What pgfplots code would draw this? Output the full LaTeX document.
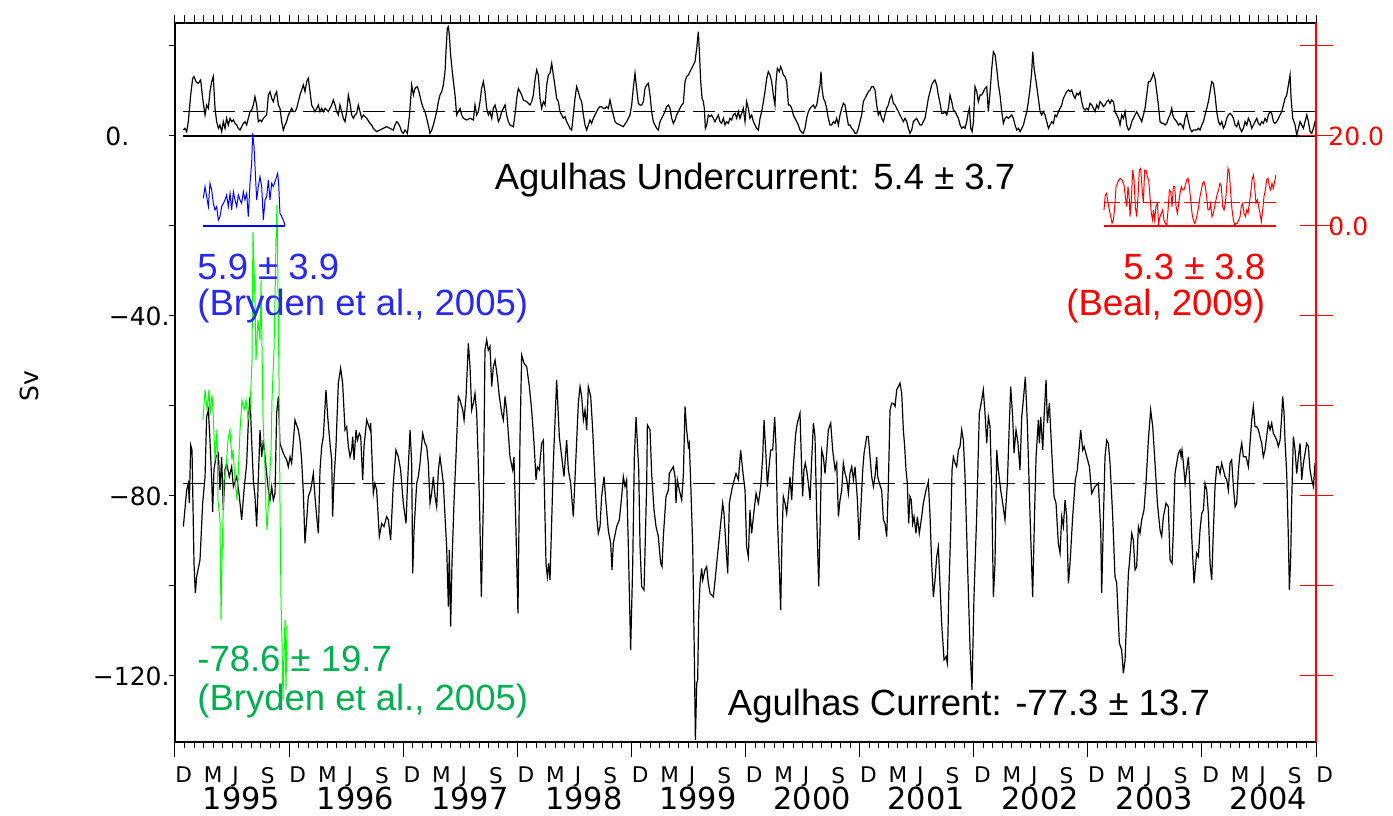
\documentclass[border=0pt]{standalone}
\usepackage{fontspec}
\setmainfont{Liberation Sans}
\newfontfamily\axisfont{DejaVu Sans}
\usepackage{pgfplots}
\pgfplotsset{compat=1.18}

\definecolor{linegreen}{RGB}{0,255,0}
\definecolor{textgreen}{RGB}{0,176,80}
\definecolor{lineblue}{RGB}{0,0,255}
\definecolor{textblue}{RGB}{40,40,240}
\definecolor{linered}{RGB}{255,0,0}

\newcommand{\annfont}{\fontsize{18.25}{22}\selectfont}
\newcommand{\tickfont}{\axisfont\fontsize{12.5}{14}\selectfont}
\newcommand{\monthfont}{\axisfont\fontsize{10.8}{12}\selectfont}
\newcommand{\yearfont}{\axisfont\fontsize{15.2}{17}\selectfont}

\begin{document}
\begin{tikzpicture}
\pgfplotsset{
  common/.style={scale only axis, width=570.5pt, height=359.5pt, xmin=0, xmax=120},
}
% monthly ticks along the top edge
\begin{axis}[common, ymin=-134.67, ymax=25.11,
  axis x line*=top, axis y line=none,
  xtick={0,...,120}, xticklabels={},
  tick align=outside, major tick length=4pt,
  tick style={black, line width=0.5pt},
  axis line style={black, line width=0.6pt}]
\end{axis}

\begin{axis}[common, name=main, ymin=-134.67, ymax=25.11, clip=false,
  axis line style={black, line width=0.6pt},
  xtick={0,3,...,120}, minor xtick={0,...,120}, xtick pos=bottom,
  xticklabels={D,M,J,S,D,M,J,S,D,M,J,S,D,M,J,S,D,M,J,S,D,M,J,S,D,M,J,S,D,M,J,S,D,M,J,S,D,M,J,S,D},
  xticklabel style={anchor=north west, inner sep=0pt, font=\monthfont},
  xticklabel shift=9.3pt,
  extra x ticks={0,12,...,120}, extra x tick labels={},
  extra x tick style={major tick length=7.5pt},
  ytick={-120,-100,...,20}, yticklabels={}, ytick pos=left,
  tick align=outside, major tick length=3pt, minor tick length=3pt,
  tick style={black, line width=0.5pt},
]

% reference lines: zero and mean of the undercurrent, mean of the current
\addplot[black, line width=0.6pt] coordinates {(0.84,0) (120,0)};
\addplot[black, line width=0.6pt, dash pattern=on 11pt off 4pt] coordinates {(0.84,5.4) (120,5.4)};
\addplot[black, line width=0.6pt, dash pattern=on 11pt off 4pt] coordinates {(0.84,-77.3) (120,-77.3)};

% Agulhas Undercurrent transport (Sv)
\addplot[black, line width=0.6pt] coordinates {
(0.88,1.33)(1.05,1.70)(1.23,0.96)(1.40,3.19)(1.65,9.11)(1.86,12.81)(2.00,13.19)(2.21,12.07)(2.45,11.70)(2.70,12.45)
(2.91,8.37)(3.16,4.67)(3.33,6.89)(3.51,6.15)(3.68,9.85)(3.86,12.07)(4.03,13.19)(4.21,6.15)(4.38,3.19)(4.56,1.70)
(4.73,2.44)(4.91,0.96)(5.08,3.19)(5.26,1.70)(5.43,3.93)(5.61,2.44)(5.79,3.93)(5.96,3.19)(6.14,3.56)(6.31,2.81)
(6.49,2.44)(6.66,1.70)(6.84,1.33)(7.01,2.07)(7.19,2.81)(7.36,3.19)(7.54,2.44)(7.71,3.93)(7.89,5.41)(8.06,5.78)
(8.24,6.89)(8.41,8.74)(8.59,6.89)(8.76,3.19)(8.94,3.56)(9.12,3.19)(9.29,3.93)(9.64,4.67)(9.82,9.11)(9.99,9.85)
(10.17,8.37)(10.34,7.63)(10.52,9.11)(10.69,9.85)(10.87,6.89)(11.04,6.15)(11.22,3.19)(11.39,1.33)(11.57,2.44)(11.74,3.19)
(11.92,4.67)(12.10,5.41)(12.27,6.15)(12.45,5.41)(12.62,5.41)(12.80,6.15)(12.97,7.63)(13.15,9.11)(13.32,10.22)(13.50,11.33)
(13.67,9.85)(13.85,12.07)(14.02,12.81)(14.20,9.85)(14.37,6.89)(14.55,6.15)(14.72,5.41)(14.90,6.15)(15.08,6.89)(15.25,5.41)
(15.43,6.15)(15.60,5.41)(15.78,6.15)(15.95,5.78)(16.13,5.41)(16.30,6.15)(16.48,6.89)(16.65,8.00)(16.83,6.89)(17.00,5.41)
(17.18,4.67)(17.35,6.89)(17.53,5.41)(17.70,3.93)(17.88,3.19)(18.06,5.41)(18.23,9.11)(18.41,7.26)(18.58,4.67)(18.76,3.93)
(18.93,4.67)(19.11,5.04)(19.28,6.89)(19.46,5.41)(19.63,3.93)(19.81,4.67)(20.16,3.93)(20.51,2.81)(20.68,2.44)(20.86,1.70)
(21.04,1.33)(21.21,0.96)(21.56,1.33)(21.91,1.70)(22.26,2.07)(22.61,1.70)(22.96,1.33)(23.14,2.44)(23.31,3.19)(23.49,2.81)
(23.66,2.07)(23.84,0.96)(24.02,0.59)(24.19,1.33)(24.44,0.59)(24.65,4.30)(24.79,8.37)(24.89,11.33)(25.07,9.11)(25.24,10.59)
(25.49,10.96)(25.70,9.48)(25.94,7.26)(26.12,6.15)(26.29,5.41)(26.47,3.93)(26.64,2.44)(26.82,0.59)(27.00,1.33)(27.17,2.44)
(27.35,3.93)(27.52,5.41)(27.70,7.63)(27.87,9.11)(28.05,9.85)(28.22,11.33)(28.40,14.30)(28.50,18.74)(28.64,23.93)(28.75,24.30)
(28.85,22.45)(28.99,18.00)(29.20,13.56)(29.45,9.11)(29.62,4.67)(29.80,5.41)(29.98,6.15)(30.15,4.67)(30.33,3.93)(30.68,3.56)
(31.03,3.93)(31.38,3.56)(31.55,6.89)(31.73,4.67)(31.90,5.41)(32.08,7.63)(32.25,10.59)(32.43,12.07)(32.60,9.85)(32.78,6.15)
(32.96,4.67)(33.13,5.41)(33.31,3.93)(33.48,6.15)(33.66,6.89)(33.83,5.41)(34.01,3.19)(34.18,3.93)(34.36,5.41)(34.53,6.15)
(34.71,6.89)(34.88,4.67)(35.06,3.19)(35.23,2.44)(35.58,2.07)(35.76,4.67)(35.94,8.37)(36.11,10.59)(36.29,9.85)(36.46,9.11)
(36.64,8.00)(36.99,7.63)(37.34,6.89)(37.51,7.63)(37.69,9.11)(37.86,12.45)(38.04,14.67)(38.21,13.56)(38.39,8.37)(38.56,6.15)
(38.74,7.63)(38.92,6.89)(39.09,11.33)(39.27,13.56)(39.44,13.93)(39.62,16.15)(39.79,13.56)(39.97,10.96)(40.14,8.37)(40.32,7.63)
(40.49,5.41)(40.67,4.67)(40.84,3.93)(41.02,4.30)(41.19,3.19)(41.37,2.44)(41.54,1.70)(41.72,1.33)(41.89,4.67)(42.07,8.37)
(42.24,10.96)(42.42,9.85)(42.60,8.37)(42.77,7.63)(42.95,4.67)(43.12,2.44)(43.30,1.33)(43.47,2.44)(43.65,3.56)(43.82,2.81)
(44.00,3.93)(44.17,4.67)(44.35,5.41)(44.52,6.15)(44.70,6.52)(44.87,6.52)(45.05,6.15)(45.22,6.15)(45.40,6.52)(45.58,6.15)
(45.75,8.00)(45.93,6.15)(46.10,4.67)(46.28,3.19)(46.45,2.81)(46.80,2.44)(47.15,2.07)(47.50,3.19)(47.85,4.67)(48.03,6.89)
(48.20,10.59)(48.38,13.93)(48.55,10.59)(48.73,7.26)(48.91,6.89)(49.08,6.89)(49.26,7.63)(49.43,10.59)(49.61,11.33)(49.78,11.70)
(49.96,9.11)(50.13,5.41)(50.31,3.19)(50.48,2.44)(50.66,1.70)(50.83,1.33)(51.01,3.19)(51.18,3.93)(51.36,4.67)(51.53,5.41)
(51.71,6.52)(51.89,6.89)(52.06,6.15)(52.24,3.93)(52.41,2.81)(52.59,3.56)(52.76,4.67)(52.94,5.41)(53.11,6.15)(53.29,6.89)
(53.46,7.26)(53.64,12.07)(53.81,13.19)(53.99,13.56)(54.16,14.30)(54.34,15.04)(54.51,15.78)(54.69,16.52)(54.87,19.48)(55.04,23.19)
(55.15,18.74)(55.29,12.07)(55.43,8.37)(55.57,7.63)(55.67,6.15)(55.78,1.70)(55.92,2.44)(56.09,4.67)(56.27,4.30)(56.44,4.67)
(56.62,3.93)(56.79,3.19)(56.97,3.93)(57.14,4.67)(57.32,3.19)(57.49,2.81)(57.67,3.93)(57.85,2.44)(58.02,3.19)(58.20,2.81)
(58.37,3.93)(58.55,3.56)(58.72,4.67)(58.90,5.04)(59.07,3.93)(59.25,5.41)(59.42,3.93)(59.60,5.04)(59.77,6.15)(59.95,3.19)
(60.12,7.63)(60.30,6.15)(60.47,3.93)(60.65,4.67)(60.83,3.19)(61.00,2.44)(61.18,1.70)(61.35,1.33)(61.53,3.93)(61.70,5.41)
(61.88,7.63)(62.05,9.85)(62.23,12.81)(62.40,14.30)(62.58,13.56)(62.75,12.07)(62.93,9.11)(63.10,6.89)(63.21,12.07)(63.35,15.04)
(63.56,14.30)(63.70,15.41)(63.84,14.67)(63.98,13.56)(64.16,13.19)(64.33,12.07)(64.51,6.89)(64.68,6.89)(64.86,6.15)(65.03,4.67)
(65.21,3.93)(65.38,3.19)(65.56,2.44)(65.73,1.33)(65.91,0.82)(66.08,0.59)(66.26,1.70)(66.43,3.93)(66.61,5.41)(66.79,6.15)
(66.96,6.52)(67.14,6.89)(67.31,6.15)(67.49,6.89)(67.66,9.11)(67.84,11.33)(67.94,14.30)(68.05,10.59)(68.19,8.37)(68.36,7.63)
(68.54,6.15)(68.71,3.93)(68.89,2.44)(69.06,2.44)(69.24,3.19)(69.42,2.81)(69.59,3.93)(69.77,2.44)(69.94,4.67)(70.12,6.15)
(70.29,7.26)(70.47,6.89)(70.64,4.67)(70.82,2.44)(70.99,2.44)(71.17,1.70)(71.34,1.33)(71.52,0.59)(71.69,0.59)(71.87,1.70)
(72.04,3.19)(72.22,4.67)(72.39,7.63)(72.57,8.37)(72.75,9.11)(72.92,9.85)(73.10,10.22)(73.27,10.96)(73.45,10.96)(73.62,10.22)
(73.80,6.89)(73.97,4.67)(74.15,5.41)(74.32,3.93)(74.50,3.19)(74.67,4.67)(74.85,6.15)(75.02,6.89)(75.20,8.37)(75.37,9.11)
(75.55,7.26)(75.73,6.89)(75.90,6.15)(76.08,5.41)(76.25,4.67)(76.43,3.93)(76.60,3.19)(76.78,3.93)(76.95,3.19)(77.13,1.70)
(77.30,0.59)(77.48,1.33)(77.65,3.19)(77.83,3.56)(78.00,3.93)(78.18,3.19)(78.35,2.44)(78.53,2.44)(78.70,3.19)(78.88,3.93)
(79.06,6.15)(79.23,8.37)(79.41,9.85)(79.58,11.33)(79.76,12.07)(79.93,12.45)(80.11,11.33)(80.28,9.11)(80.46,7.26)(80.64,5.04)
(80.81,5.04)(80.99,5.41)(81.16,4.67)(81.34,6.15)(81.51,9.11)(81.69,7.63)(81.86,5.78)(82.04,5.41)(82.21,4.67)(82.39,3.93)
(82.57,2.44)(82.74,1.70)(82.92,2.07)(83.09,1.70)(83.27,3.19)(83.44,5.41)(83.55,6.15)(83.69,1.70)(83.83,0.96)(83.97,3.19)
(84.14,10.96)(84.32,9.85)(84.49,7.63)(84.67,9.11)(84.84,9.11)(85.02,9.85)(85.19,10.59)(85.37,10.96)(85.54,5.41)(85.72,9.85)
(85.90,15.04)(86.07,18.74)(86.25,18.00)(86.42,15.04)(86.60,11.33)(86.77,9.11)(86.95,5.41)(87.12,2.81)(87.30,3.93)(87.47,4.30)
(87.65,3.93)(87.82,4.30)(88.00,4.67)(88.17,3.93)(88.35,2.44)(88.53,1.33)(88.70,1.70)(88.88,0.96)(89.05,1.70)(89.23,2.44)
(89.40,3.93)(89.58,5.41)(89.75,7.63)(89.93,10.59)(90.10,14.30)(90.21,18.74)(90.35,15.04)(90.56,12.07)(90.80,8.37)(90.98,5.41)
(91.15,4.67)(91.33,5.41)(91.50,4.67)(91.68,3.19)(91.86,1.70)(92.03,2.44)(92.21,3.19)(92.38,2.81)(92.56,4.67)(92.73,4.30)
(92.91,5.41)(93.08,6.15)(93.26,6.89)(93.43,8.37)(93.61,9.11)(93.78,9.85)(93.96,10.22)(94.13,9.85)(94.31,10.22)(94.48,9.11)
(94.66,8.37)(94.84,9.48)(95.01,9.11)(95.19,9.85)(95.36,7.63)(95.54,6.15)(95.71,5.78)(95.89,6.15)(96.06,5.78)(96.24,7.26)
(96.41,6.89)(96.59,6.15)(96.76,5.41)(96.94,6.89)(97.11,6.15)(97.29,7.63)(97.46,7.26)(97.64,6.52)(97.82,6.89)(97.99,7.63)
(98.17,8.00)(98.34,7.26)(98.52,8.00)(98.69,7.63)(98.87,5.41)(99.04,4.67)(99.22,3.93)(99.39,2.44)(99.57,4.67)(99.74,3.93)
(99.92,5.41)(100.09,2.44)(100.27,1.33)(100.44,1.70)(100.62,3.19)(100.80,3.93)(100.97,4.67)(101.15,5.41)(101.32,4.67)(101.50,3.93)
(101.67,3.19)(101.85,4.67)(102.02,6.15)(102.20,9.11)(102.37,12.07)(102.55,12.07)(102.72,12.81)(102.90,13.93)(103.07,12.81)(103.25,9.85)
(103.42,6.89)(103.60,3.19)(103.78,2.81)(103.95,2.81)(104.13,2.44)(104.30,2.81)(104.48,3.93)(104.65,4.67)(104.83,6.15)(104.93,4.67)
(105.07,3.93)(105.35,3.19)(105.53,2.44)(105.70,2.81)(105.88,2.44)(106.05,1.70)(106.23,3.93)(106.40,5.04)(106.58,3.19)(106.76,1.70)
(106.93,0.96)(107.11,1.33)(107.46,1.33)(107.63,1.70)(107.81,1.33)(107.98,2.44)(108.16,3.19)(108.33,4.67)(108.51,6.15)(108.68,7.63)
(108.86,9.85)(109.03,12.07)(109.21,11.70)(109.38,9.11)(109.56,5.41)(109.74,3.19)(109.91,2.44)(110.09,3.19)(110.26,1.70)(110.44,2.44)
(110.61,3.93)(110.79,4.67)(110.96,5.04)(111.14,4.67)(111.31,3.93)(111.49,2.44)(111.66,2.07)(111.84,3.19)(112.01,1.70)(112.19,0.96)
(112.36,1.70)(112.54,3.19)(112.72,2.44)(112.89,3.93)(113.07,3.19)(113.24,1.70)(113.42,2.44)(113.59,3.19)(113.77,3.93)(113.94,2.81)
(114.12,2.44)(114.29,3.19)(114.47,2.81)(114.64,3.93)(114.82,3.19)(114.99,4.67)(115.17,5.41)(115.34,5.04)(115.52,3.19)(115.69,2.81)
(115.87,3.19)(116.05,3.93)(116.22,4.67)(116.40,5.41)(116.57,6.89)(116.75,8.37)(116.92,9.11)(117.10,11.33)(117.27,13.56)(117.38,8.37)
(117.55,3.93)(117.80,2.44)(117.97,0.22)(118.15,1.70)(118.32,3.19)(118.50,2.44)(118.67,1.70)(118.85,3.19)(119.03,4.67)(119.20,3.19)
(119.38,0.96)(119.55,0.59)(119.73,1.70)(119.90,3.19)(120.00,2.81)
};

% Agulhas Current transport (Sv)
\addplot[black, line width=0.6pt] coordinates {
(0.88,-86.8)(1.23,-78.7)(1.40,-77.2)(1.51,-81.6)(1.65,-68.7)(1.79,-69.8)(2.00,-95.0)(2.14,-101.6)(2.28,-97.9)(2.63,-94.2)
(2.91,-81.6)(3.16,-75.7)(3.33,-62.4)(3.51,-60.9)(3.68,-67.6)(3.86,-76.4)(3.96,-83.5)(4.10,-74.2)(4.31,-71.3)(4.56,-70.5)
(4.73,-78.7)(4.91,-71.3)(5.08,-83.1)(5.26,-74.2)(5.43,-72.7)(5.71,-75.7)(5.96,-73.5)(6.14,-77.9)(6.49,-75.7)(6.77,-80.1)
(7.01,-85.3)(7.26,-78.7)(7.54,-72.7)(7.71,-63.8)(7.89,-57.9)(8.06,-67.6)(8.24,-76.4)(8.41,-80.1)(8.59,-86.8)(8.77,-75.7)
(8.94,-65.3)(9.12,-71.3)(9.29,-67.6)(9.47,-71.3)(9.64,-75.0)(9.82,-78.7)(9.99,-80.9)(10.17,-77.9)(10.34,-80.9)(10.52,-79.4)
(10.69,-61.6)(10.87,-57.9)(11.04,-68.3)(11.39,-70.5)(11.75,-72.0)(11.92,-73.5)(12.10,-71.3)(12.27,-72.7)(12.62,-63.1)(12.97,-65.3)
(13.15,-67.6)(13.32,-72.0)(13.50,-79.4)(13.67,-90.5)(13.85,-85.3)(14.02,-80.1)(14.27,-78.7)(14.55,-75.0)(14.72,-80.1)(14.90,-84.6)
(15.08,-88.3)(15.25,-74.2)(15.43,-69.0)(15.60,-66.8)(15.88,-56.4)(16.06,-62.4)(16.30,-68.3)(16.48,-72.0)(16.58,-84.6)(16.72,-76.4)
(16.93,-69.0)(17.18,-54.9)(17.42,-51.6)(17.63,-54.9)(17.88,-65.3)(18.06,-64.6)(18.23,-69.0)(18.41,-71.3)(18.58,-69.8)(18.69,-66.8)
(18.83,-72.0)(19.04,-65.3)(19.18,-67.6)(19.39,-66.1)(19.53,-66.8)(19.74,-76.4)(19.88,-69.0)(20.16,-63.1)(20.51,-65.3)(20.58,-63.8)
(20.79,-75.7)(20.86,-79.4)(21.03,-77.2)(21.21,-78.7)(21.49,-89.0)(21.74,-86.1)(21.98,-86.8)(22.26,-84.6)(22.44,-85.3)(22.68,-89.8)
(22.96,-77.2)(23.24,-69.8)(23.49,-71.3)(23.73,-74.2)(24.01,-81.6)(24.30,-86.1)(24.44,-77.9)(24.72,-65.3)(24.89,-72.7)(25.00,-97.2)
(25.14,-87.6)(25.42,-77.2)(25.59,-75.7)(25.77,-72.7)(26.05,-66.1)(26.29,-68.3)(26.47,-69.0)(26.64,-72.7)(26.82,-81.6)(26.99,-79.4)
(27.17,-75.7)(27.35,-80.1)(27.52,-82.4)(27.70,-74.2)(27.87,-71.3)(28.05,-74.2)(28.22,-77.2)(28.40,-84.6)(28.57,-91.3)(28.75,-104.6)
(28.85,-92.0)(28.99,-109.0)(29.13,-95.0)(29.34,-81.6)(29.55,-71.3)(29.80,-57.9)(29.97,-58.7)(30.26,-60.9)(30.40,-63.1)(30.61,-57.9)
(30.85,-46.1)(31.03,-51.3)(31.20,-60.9)(31.38,-59.4)(31.55,-57.2)(31.73,-61.6)(32.01,-80.1)(32.22,-102.4)(32.43,-81.6)(32.60,-47.6)
(32.78,-45.3)(32.95,-47.6)(33.13,-46.8)(33.31,-55.7)(33.48,-51.3)(33.66,-49.8)(33.90,-53.5)(34.11,-57.9)(34.36,-61.6)(34.53,-63.1)
(34.71,-57.9)(34.88,-60.9)(35.23,-71.3)(35.51,-74.2)(35.65,-71.3)(35.86,-87.6)(36.07,-106.1)(36.28,-67.6)(36.46,-48.7)(36.71,-50.5)
(36.99,-51.3)(37.27,-55.7)(37.51,-60.9)(37.76,-68.3)(37.97,-76.4)(38.11,-73.5)(38.32,-74.2)(38.56,-68.3)(38.74,-67.6)(39.02,-95.0)
(39.16,-97.9)(39.30,-95.0)(39.44,-98.7)(39.79,-72.7)(40.14,-54.2)(40.42,-66.8)(40.67,-71.3)(40.91,-75.7)(41.19,-67.6)(41.37,-74.2)
(41.61,-77.2)(41.89,-84.6)(42.17,-71.3)(42.42,-59.4)(42.60,-55.7)(42.77,-57.9)(42.95,-63.1)(43.12,-60.9)(43.30,-65.3)(43.47,-55.7)
(43.72,-57.9)(43.93,-65.3)(44.17,-76.4)(44.35,-84.6)(44.52,-88.3)(44.70,-86.8)(44.87,-80.1)(45.12,-75.7)(45.33,-81.6)(45.57,-87.6)
(45.82,-90.5)(45.96,-96.4)(46.10,-90.5)(46.45,-86.8)(46.73,-85.3)(46.98,-80.1)(47.15,-75.7)(47.33,-77.9)(47.50,-76.4)(47.68,-91.3)
(47.92,-114.2)(48.14,-95.0)(48.31,-71.3)(48.49,-62.4)(48.63,-68.3)(48.77,-74.2)(48.91,-91.3)(49.08,-100.1)(49.33,-100.9)(49.61,-77.2)
(49.68,-64.2)(49.96,-65.3)(50.13,-75.0)(50.38,-83.1)(50.59,-86.8)(50.83,-89.0)(51.08,-95.0)(51.22,-95.7)(51.36,-89.0)(51.64,-80.1)
(51.89,-78.7)(51.99,-75.0)(52.20,-74.2)(52.41,-73.5)(52.59,-75.7)(52.69,-81.6)(52.83,-76.4)(53.04,-78.7)(53.29,-80.9)(53.47,-75.0)
(53.64,-60.1)(53.81,-65.3)(53.99,-69.0)(54.09,-68.3)(54.24,-77.2)(54.45,-91.3)(54.62,-115.7)(54.73,-134.2)(54.87,-121.6)(54.97,-120.9)
(55.08,-106.1)(55.22,-99.4)(55.39,-96.1)(55.50,-98.7)(55.74,-96.4)(55.92,-95.7)(56.09,-99.4)(56.27,-101.6)(56.62,-102.4)(56.80,-98.7)
(57.04,-93.5)(57.32,-87.6)(57.60,-81.6)(57.74,-83.9)(57.95,-91.3)(58.13,-97.2)(58.30,-81.6)(58.55,-78.7)(58.72,-77.2)(59.00,-75.0)
(59.25,-76.4)(59.49,-69.8)(59.70,-74.2)(59.95,-78.7)(60.12,-91.3)(60.30,-93.5)(60.47,-83.1)(60.65,-88.3)(60.83,-84.6)(61.11,-79.4)
(61.35,-81.6)(61.60,-77.9)(61.81,-71.3)(61.95,-63.1)(62.16,-71.3)(62.30,-77.9)(62.51,-72.7)(62.65,-69.8)(62.86,-69.8)(63.07,-62.4)
(63.21,-69.0)(63.35,-84.6)(63.56,-96.4)(63.70,-105.3)(63.84,-89.0)(63.98,-80.1)(64.16,-81.6)(64.33,-83.9)(64.51,-80.1)(64.68,-75.7)
(64.86,-80.9)(65.03,-73.5)(65.28,-66.1)(65.45,-63.8)(65.73,-61.6)(65.91,-74.2)(66.01,-80.1)(66.15,-74.2)(66.29,-72.7)(66.43,-74.2)
(66.61,-77.2)(66.79,-80.9)(66.96,-72.0)(67.14,-63.8)(67.31,-66.8)(67.49,-84.6)(67.70,-100.1)(67.84,-87.6)(68.01,-69.8)(68.19,-71.3)
(68.36,-75.0)(68.54,-70.5)(68.71,-65.3)(68.96,-63.8)(69.17,-69.8)(69.42,-74.2)(69.59,-72.7)(69.77,-84.6)(69.94,-80.9)(70.12,-78.7)
(70.29,-72.7)(70.47,-75.0)(70.65,-76.4)(70.82,-79.4)(70.99,-75.0)(71.17,-73.5)(71.35,-76.4)(71.52,-73.5)(71.77,-80.9)(71.94,-89.8)
(72.12,-83.1)(72.33,-74.2)(72.47,-70.5)(72.75,-66.8)(72.92,-66.8)(73.10,-71.3)(73.27,-75.7)(73.45,-77.9)(73.62,-75.7)(73.80,-71.3)
(73.90,-75.7)(74.08,-77.2)(74.32,-78.7)(74.50,-85.3)(74.67,-86.1)(74.85,-89.0)(75.02,-77.9)(75.20,-60.9)(75.37,-59.4)(75.55,-59.4)
(75.73,-60.1)(75.90,-56.4)(76.08,-55.7)(76.25,-54.9)(76.43,-57.2)(76.60,-65.3)(76.74,-69.0)(76.88,-74.2)(77.02,-77.2)(77.16,-86.1)
(77.30,-80.1)(77.44,-80.9)(77.58,-86.1)(77.72,-84.6)(77.93,-88.3)(78.07,-84.6)(78.28,-88.3)(78.53,-84.6)(78.70,-81.6)(78.99,-78.7)
(79.23,-76.8)(79.41,-84.6)(79.58,-95.0)(79.76,-102.4)(79.93,-98.7)(80.11,-93.5)(80.28,-91.3)(80.39,-96.4)(80.63,-108.3)(80.88,-116.4)
(81.09,-115.7)(81.23,-117.2)(81.37,-102.4)(81.58,-87.6)(81.72,-74.2)(81.86,-71.3)(82.04,-72.7)(82.21,-73.5)(82.39,-69.8)(82.56,-69.0)
(82.74,-65.3)(82.91,-67.6)(83.09,-75.7)(83.33,-93.5)(83.61,-113.5)(83.82,-123.1)(84.03,-102.4)(84.31,-84.6)(84.59,-61.6)(84.84,-58.7)
(85.01,-56.4)(85.19,-61.6)(85.37,-68.3)(85.54,-62.4)(85.72,-64.6)(85.89,-77.9)(86.07,-102.4)(86.24,-95.0)(86.42,-69.8)(86.59,-74.2)
(86.84,-78.7)(87.05,-81.6)(87.29,-85.3)(87.54,-77.2)(87.75,-63.8)(87.89,-55.7)(88.10,-62.4)(88.24,-70.5)(88.45,-65.3)(88.66,-68.3)
(88.87,-74.2)(89.05,-62.4)(89.22,-58.7)(89.43,-53.5)(89.64,-63.8)(89.92,-83.9)(90.20,-102.4)(90.41,-83.1)(90.56,-71.3)(90.80,-63.1)
(90.91,-68.3)(91.05,-62.4)(91.26,-69.8)(91.40,-62.4)(91.61,-54.2)(91.75,-63.8)(91.96,-59.4)(92.20,-69.8)(92.45,-80.1)(92.66,-81.6)
(92.90,-90.5)(93.08,-92.7)(93.26,-84.6)(93.43,-86.8)(93.61,-80.9)(93.78,-84.6)(93.96,-99.4)(94.13,-95.0)(94.41,-84.6)(94.69,-76.4)
(94.90,-74.2)(95.11,-69.0)(95.25,-65.3)(95.47,-69.8)(95.61,-69.0)(95.89,-71.3)(96.17,-73.5)(96.41,-79.4)(96.76,-77.9)(97.11,-77.2)
(97.36,-87.6)(97.46,-101.6)(97.64,-85.3)(97.81,-71.3)(97.99,-67.6)(98.16,-68.3)(98.34,-72.7)(98.62,-84.6)(98.86,-97.9)(99.04,-99.4)
(99.32,-112.7)(99.56,-114.2)(99.74,-119.4)(99.92,-116.4)(100.09,-106.8)(100.27,-97.2)(100.37,-95.0)(100.62,-88.3)(100.79,-89.8)(100.97,-96.4)
(101.14,-95.7)(101.32,-86.8)(101.49,-88.3)(101.67,-85.3)(101.91,-83.1)(102.12,-77.2)(102.37,-67.6)(102.61,-60.9)(102.83,-64.6)(103.07,-72.7)
(103.32,-81.6)(103.60,-87.6)(103.77,-89.0)(103.95,-84.6)(104.23,-81.6)(104.47,-82.4)(104.65,-94.2)(104.86,-95.0)(105.00,-87.6)(105.17,-75.0)
(105.35,-72.7)(105.53,-70.5)(105.70,-69.8)(105.81,-71.3)(105.91,-69.8)(106.05,-72.7)(106.23,-77.2)(106.40,-74.2)(106.58,-71.3)(106.75,-77.9)
(106.93,-89.0)(107.17,-99.4)(107.45,-92.7)(107.63,-93.5)(107.80,-87.6)(107.98,-83.9)(108.16,-83.1)(108.33,-77.2)(108.51,-78.7)(108.68,-83.9)
(108.86,-95.0)(109.03,-98.7)(109.21,-87.6)(109.38,-77.9)(109.56,-73.5)(109.73,-73.5)(109.91,-75.0)(110.08,-72.7)(110.26,-74.2)(110.43,-75.7)
(110.61,-76.4)(110.78,-78.7)(110.96,-72.7)(111.13,-72.0)(111.31,-77.9)(111.49,-82.4)(111.66,-81.6)(111.84,-74.2)(112.01,-70.5)(112.19,-68.3)
(112.36,-71.3)(112.64,-71.3)(112.89,-73.5)(113.06,-68.3)(113.24,-63.1)(113.41,-60.1)(113.59,-64.6)(113.76,-64.6)(113.94,-65.3)(114.11,-66.8)
(114.29,-68.3)(114.46,-71.3)(114.64,-69.8)(114.81,-66.8)(114.99,-63.8)(115.17,-65.3)(115.34,-63.8)(115.52,-66.1)(115.69,-66.8)(115.87,-67.6)
(116.04,-69.0)(116.22,-67.6)(116.39,-62.4)(116.50,-57.9)(116.64,-61.6)(116.74,-67.6)(116.92,-75.0)(117.09,-89.0)(117.20,-100.9)(117.34,-93.5)
(117.44,-81.6)(117.62,-66.8)(117.80,-69.8)(117.97,-75.0)(118.15,-71.3)(118.32,-68.3)(118.50,-76.4)(118.67,-72.7)(118.85,-70.5)(119.02,-68.3)
(119.20,-69.0)(119.37,-74.2)(119.55,-76.4)(119.73,-77.9)(119.90,-72.7)
};

% Bryden et al. (2005) current
\addplot[linegreen, line width=0.5pt] coordinates {
(2.94,-63.1)(3.16,-56.4)(3.37,-60.9)(3.58,-56.4)(3.68,-62.0)(3.89,-57.6)(4.00,-60.9)(4.21,-72.0)(4.42,-65.3)(4.52,-80.9)
(4.73,-85.3)(4.84,-107.6)(4.94,-94.2)(5.15,-76.4)(5.36,-74.2)(5.57,-67.6)(5.78,-65.3)(5.99,-72.0)(6.10,-69.8)(6.31,-76.4)
(6.52,-80.9)(6.63,-76.4)(6.84,-65.3)(7.05,-58.7)(7.26,-60.9)(7.47,-58.7)(7.68,-63.1)(7.89,-60.9)(8.10,-49.8)(8.20,-21.3)
(8.41,-36.4)(8.52,-49.8)(8.73,-40.9)(8.94,-45.3)(9.05,-32.0)(9.26,-63.1)(9.47,-74.2)(9.57,-83.1)(9.68,-87.6)(9.89,-78.7)
(10.10,-69.8)(10.20,-58.7)(10.41,-47.6)(10.52,-36.4)(10.62,-23.1)(10.73,-15.3)(10.94,-54.2)(11.04,-80.9)(11.15,-103.1)(11.25,-112.0)
(11.36,-125.3)(11.46,-114.2)(11.57,-107.6)(11.67,-123.1)(11.78,-108.7)
};

% Bryden et al. (2005) undercurrent, drawn 20 Sv below its own zero
\addplot[lineblue, line width=0.5pt, y filter/.expression={y-20}] coordinates {
(2.98,6.15)(3.16,8.74)(3.33,6.52)(3.51,4.30)(3.68,9.48)(3.86,8.00)(4.03,5.04)(4.21,3.56)(4.38,4.30)(4.56,1.33)
(4.73,2.07)(4.91,4.30)(5.08,5.04)(5.26,5.78)(5.43,6.89)(5.61,4.30)(5.79,7.26)(5.96,3.56)(6.14,7.63)(6.31,5.78)
(6.49,4.30)(6.66,6.89)(6.84,5.78)(7.01,5.04)(7.19,7.63)(7.36,5.78)(7.54,7.26)(7.71,2.07)(7.89,9.48)(8.06,13.93)
(8.17,20.60)(8.31,17.63)(8.45,11.70)(8.59,5.78)(8.76,8.74)(8.94,10.96)(9.12,8.74)(9.29,1.33)(9.47,5.78)(9.64,6.52)
(9.82,10.22)(9.99,5.78)(10.17,9.48)(10.34,8.74)(10.52,9.85)(10.69,10.96)(10.80,11.70)(10.90,9.48)(11.04,2.81)(11.22,2.07)
(11.39,1.33)(11.57,0.22)
};
\addplot[lineblue, line width=0.6pt, y filter/.expression={y-20}] coordinates {(2.98,0) (11.57,0)};

% Beal (2009) undercurrent, drawn 20 Sv below its own zero
\addplot[linered, line width=0.6pt, y filter/.expression={y-20}] coordinates {(97.70,0) (115.80,0)};
\addplot[linered, line width=0.4pt, dash pattern=on 8pt off 2pt, y filter/.expression={y-20}] coordinates {(97.70,5.3) (115.80,5.3)};
\addplot[linered, line width=0.5pt, y filter/.expression={y-20}] coordinates {
(97.70,3.56)(97.84,6.89)(97.98,7.26)(98.13,5.04)(98.27,3.56)(98.41,2.07)(98.55,0.59)(98.69,1.33)(98.83,4.30)(98.97,8.74)
(99.11,9.48)(99.25,10.22)(99.39,10.59)(99.60,10.22)(99.81,9.11)(99.95,6.52)(100.09,4.30)(100.23,8.74)(100.37,5.78)(100.44,2.07)
(100.58,5.78)(100.72,12.44)(100.86,10.22)(101.00,4.30)(101.14,2.07)(101.28,6.52)(101.42,12.44)(101.56,12.81)(101.70,8.74)(101.84,5.04)
(101.98,12.44)(102.12,12.44)(102.26,10.96)(102.40,10.22)(102.54,6.52)(102.68,2.81)(102.82,1.33)(102.89,3.56)(103.03,1.33)(103.17,4.30)
(103.31,5.04)(103.45,0.59)(103.59,2.07)(103.73,2.81)(103.87,3.56)(104.01,1.33)(104.15,0.59)(104.30,0.22)(104.44,3.56)(104.58,8.00)
(104.72,7.63)(104.86,4.30)(105.00,8.74)(105.14,8.74)(105.28,4.30)(105.42,2.81)(105.56,5.04)(105.70,7.26)(105.84,8.74)(105.98,8.00)
(106.12,8.00)(106.26,9.11)(106.40,10.22)(106.54,10.59)(106.68,8.74)(106.82,5.78)(106.96,2.81)(107.10,1.33)(107.24,0.59)(107.38,1.33)
(107.52,2.81)(107.66,4.30)(107.80,6.52)(107.94,8.00)(108.08,9.48)(108.22,9.85)(108.36,8.74)(108.50,6.52)(108.64,3.56)(108.78,3.56)
(108.92,5.04)(109.06,2.07)(109.20,2.81)(109.34,4.30)(109.48,5.78)(109.62,7.26)(109.76,8.00)(109.90,9.48)(110.04,8.74)(110.19,4.30)
(110.33,3.56)(110.47,5.04)(110.61,8.74)(110.75,12.81)(110.89,11.70)(111.03,7.26)(111.17,3.56)(111.31,1.33)(111.45,0.22)(111.59,0.59)
(111.73,0.59)(111.87,1.33)(112.01,2.07)(112.15,4.30)(112.29,5.04)(112.43,2.81)(112.57,2.07)(112.71,3.56)(112.85,2.81)(112.99,5.04)
(113.13,7.26)(113.27,10.22)(113.41,11.33)(113.55,8.74)(113.69,5.04)(113.83,5.78)(113.97,4.30)(114.11,2.81)(114.25,0.96)(114.39,3.56)
(114.53,6.52)(114.67,8.00)(114.81,10.22)(114.95,10.59)(115.09,8.74)(115.23,8.00)(115.37,9.48)(115.51,8.37)(115.65,9.85)(115.79,11.33)
};

% annotations
\node[anchor=base, font=\annfont] at (axis cs:61.0,-12.0) {Agulhas Undercurrent: 5.4 ± 3.7};
\node[anchor=base west, inner sep=0pt, font=\annfont, text=textblue] at (axis cs:2.31,-32.0) {5.9 ± 3.9};
\node[anchor=base west, inner sep=0pt, font=\annfont, text=textblue] at (axis cs:2.31,-40.0) {(Bryden et al., 2005)};
\node[anchor=base east, inner sep=0pt, font=\annfont, text=linered] at (axis cs:114.7,-32.0) {5.3 ± 3.8};
\node[anchor=base east, inner sep=0pt, font=\annfont, text=linered] at (axis cs:114.7,-40.0) {(Beal, 2009)};
\node[anchor=base west, inner sep=0pt, font=\annfont, text=textgreen] at (axis cs:2.31,-119.1) {-78.6 ± 19.7};
\node[anchor=base west, inner sep=0pt, font=\annfont, text=textgreen] at (axis cs:2.31,-127.6) {(Bryden et al., 2005)};
\node[anchor=base, font=\annfont] at (axis cs:83.5,-128.7) {Agulhas Current: -77.3 ± 13.7};

% left tick labels
\node[anchor=west, inner sep=0pt, font=\tickfont] at ([xshift=-35pt]axis cs:0,0) {0.};
\node[anchor=east, inner sep=0pt, font=\tickfont] at ([xshift=-2.5pt]axis cs:0,-40) {−40.};
\node[anchor=east, inner sep=0pt, font=\tickfont] at ([xshift=-2.5pt]axis cs:0,-80) {−80.};
\node[anchor=east, inner sep=0pt, font=\tickfont] at ([xshift=-2.5pt]axis cs:0,-120) {−120.};
\node[rotate=90, font=\tickfont] at ([xshift=-73pt]axis cs:0,-55.6) {Sv};

% right (red) tick labels
\node[anchor=west, inner sep=0pt, font=\tickfont, text=linered] at ([xshift=6pt]axis cs:120,0) {20.0};
\node[anchor=west, inner sep=0pt, font=\tickfont, text=linered] at ([xshift=6pt]axis cs:120,-20) {0.0};

% year labels
\node[anchor=base, inner sep=0pt, font=\yearfont] at ([yshift=-33.8pt]axis cs:7,-134.67) {1995};
\node[anchor=base, inner sep=0pt, font=\yearfont] at ([yshift=-33.8pt]axis cs:19,-134.67) {1996};
\node[anchor=base, inner sep=0pt, font=\yearfont] at ([yshift=-33.8pt]axis cs:31,-134.67) {1997};
\node[anchor=base, inner sep=0pt, font=\yearfont] at ([yshift=-33.8pt]axis cs:43,-134.67) {1998};
\node[anchor=base, inner sep=0pt, font=\yearfont] at ([yshift=-33.8pt]axis cs:55,-134.67) {1999};
\node[anchor=base, inner sep=0pt, font=\yearfont] at ([yshift=-33.8pt]axis cs:67,-134.67) {2000};
\node[anchor=base, inner sep=0pt, font=\yearfont] at ([yshift=-33.8pt]axis cs:79,-134.67) {2001};
\node[anchor=base, inner sep=0pt, font=\yearfont] at ([yshift=-33.8pt]axis cs:91,-134.67) {2002};
\node[anchor=base, inner sep=0pt, font=\yearfont] at ([yshift=-33.8pt]axis cs:103,-134.67) {2003};
\node[anchor=base, inner sep=0pt, font=\yearfont] at ([yshift=-33.8pt]axis cs:115,-134.67) {2004};
\end{axis}

% red axis on the right for the offset undercurrent records
\begin{axis}[common, ymin=-114.67, ymax=45.11,
  axis x line=none, axis y line*=right,
  axis line style={linered, line width=0.6pt},
  ytick={-100,-80,...,40}, yticklabels={},
  tick align=center, major tick length=16.5pt,
  tick style={linered, line width=0.5pt}]
\end{axis}

\pgfresetboundingbox
\path[use as bounding box] ([shift={(-87.5pt,-36.5pt)}]main.south west) rectangle ([shift={(38.5pt,11.5pt)}]main.north east);
\end{tikzpicture}
\end{document}
